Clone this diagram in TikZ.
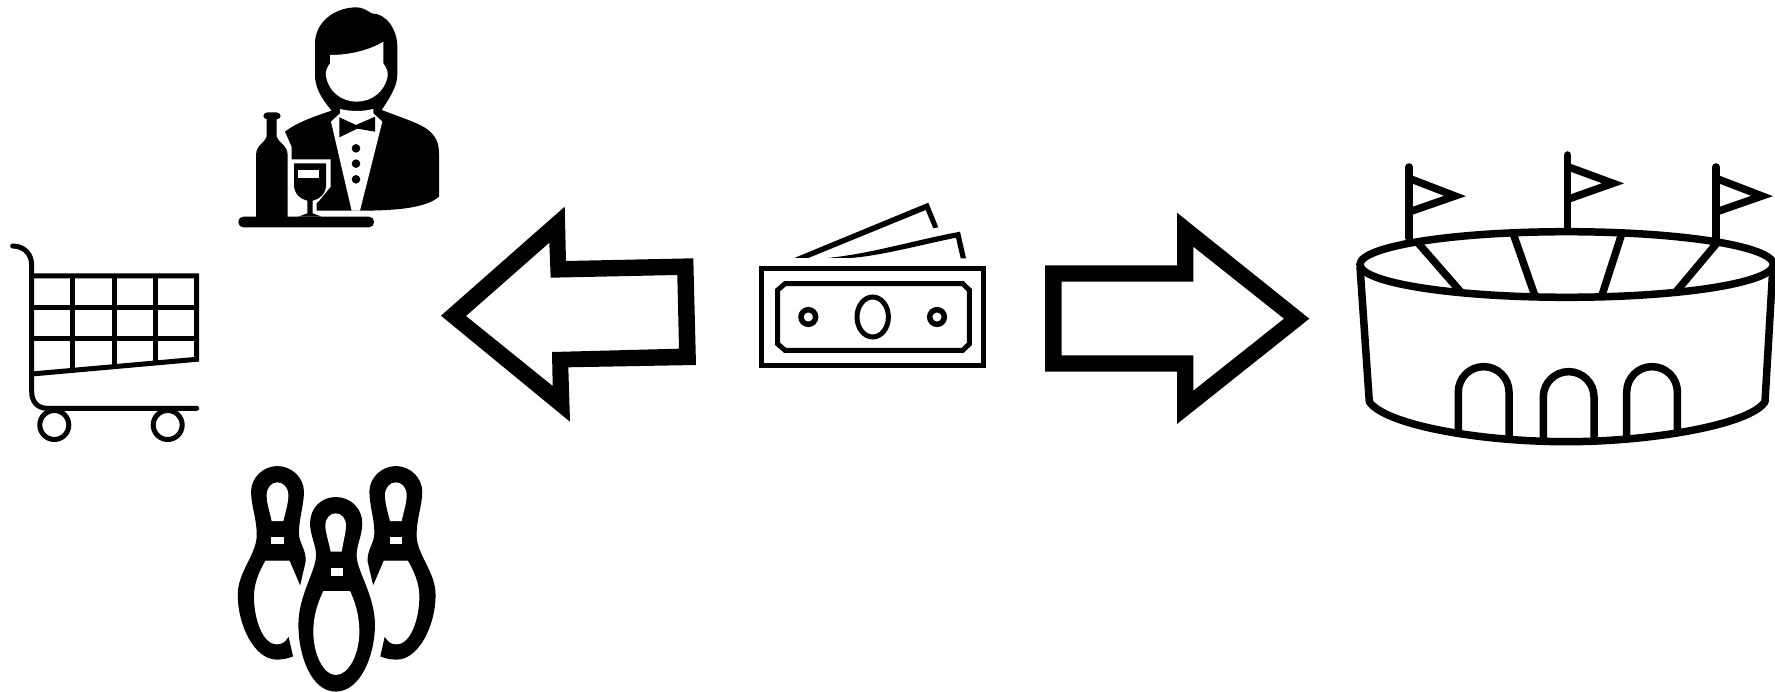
\documentclass[tikz,border=0pt]{standalone}
\tikzset{
  zoomed/.style 2 args={x=.33333pt,y=-.33333pt,xshift=#1pt,yshift=-#2pt},
  ink/.style={draw=black,line width=#1,line join=miter,fill=none},
  ink/.default=5pt,
  stadium line/.style={draw=black,line width=7.5pt},
  pin black/.style={fill=black,draw=black,line width=1.2pt}
}
\newcommand{\pinshape}{%
  \path[pin black] (172,35) .. controls (215,35) and (250,70) .. (250,110)
    .. controls (250,150) and (235,190) .. (235,235)
    .. controls (235,265) and (258,285) .. (255,320)
    -- (240,385) -- (210,315) -- (135,315)
    .. controls (115,350) and (100,385) .. (100,425)
    .. controls (100,490) and (125,570) .. (170,570)
    .. controls (185,570) and (195,565) .. (205,550)
    -- (217,603) .. controls (200,610) and (185,612) .. (170,612)
    .. controls (105,612) and (55,510) .. (55,420)
    .. controls (55,350) and (112,300) .. (112,240)
    .. controls (112,190) and (95,150) .. (95,110)
    .. controls (95,70) and (130,35) .. (172,35) -- cycle;
  \fill[white] (155,198) -- (190,198) .. controls (198,165) and (205,145) .. (205,120)
    .. controls (205,98) and (190,82) .. (172,82)
    .. controls (155,82) and (140,98) .. (140,120)
    .. controls (140,145) and (148,165) .. (155,198) -- cycle;
  \fill[white] (154,245) rectangle (191,268);
}
\begin{document}
\begin{tikzpicture}[x=1pt,y=-1pt]
\useasboundingbox[fill=white] (0,0) rectangle (1775,692);

% left arrow
\fill[black,even odd rule]
  (693.3,258.3) -- (566,261) -- (564.7,206.7) -- (441,315.7) -- (570,421.7) -- (568.3,367.3) -- (696,365) -- cycle
  (677.3,275) -- (550.7,277.7) -- (549.3,242.7) -- (466,316) -- (552.7,386) -- (552,352) -- (679,348.7) -- cycle;
% right arrow
\fill[black,even odd rule]
  (1045,265.3) -- (1177,265.3) -- (1177,212.7) -- (1309.3,318.7) -- (1177,424) -- (1177,371.7) -- (1045,371.7) -- cycle
  (1061.7,281.7) -- (1193.3,281.7) -- (1193.3,246.7) -- (1284,318.7) -- (1193.3,390.7) -- (1193.3,355.3) -- (1061.7,355.3) -- cycle;

% cart
\draw[ink,line cap=round] (12.7,246) .. controls (24,246) and (31.7,254) .. (31.7,265) -- (31.7,392)
   .. controls (31.7,402) and (38,408.3) .. (47,408.3) -- (196.7,408.3);
\draw[ink] (31.7,276) -- (196.7,276) -- (196.7,359.3) -- (31.7,374);
\draw[ink] (31.7,307.3) -- (196.7,307.3) (31.7,338.3) -- (196.7,338.3)
  (72.7,276) -- (72.7,370.3) (114,276) -- (114,366.7) (155,276) -- (155,363);
\draw[ink] (54.3,425) circle (14.5pt) (167.7,425) circle (14.5pt);

% waiter
\begin{scope}[zoomed={220}{0}]
\fill[black] (335,332) .. controls (300,290) and (285,260) .. (285,225) -- (285,130)
  .. controls (285,70) and (340,22) .. (410,22) .. controls (425,22) and (440,30) .. (455,40)
  .. controls (500,40) and (532,90) .. (532,140) -- (532,225)
  .. controls (532,260) and (505,300) .. (485,330) -- (560,358)
  .. controls (610,378) and (657,395) .. (657,460) -- (657,590)
  .. controls (620,622) and (540,632) .. (420,632) -- (290,632) -- (290,605) -- (215,600) -- (215,440) -- (195,395)
  .. controls (230,368) and (280,350) .. (335,332) -- cycle;
\fill[white] (330,165) .. controls (390,165) and (450,150) .. (490,125) -- (490,190)
  .. controls (500,205) and (505,215) .. (503,228)
  .. controls (495,275) and (455,305) .. (410,305)
  .. controls (365,305) and (325,275) .. (318,228)
  .. controls (315,215) and (322,200) .. (330,190) -- cycle;
% shirt
\fill[white] (333,365) -- (360,340) -- (360,327) .. controls (395,335) and (425,335) .. (460,327) -- (460,340)
  -- (487,365) -- (420,632) -- (395,632) -- cycle;
% bow tie
\fill[black] (358,352) -- (408,375) -- (465,350) -- (465,395) -- (412,386) -- (358,412) -- cycle;
\fill[black] (408,445) circle (4.3pt) (408,491) circle (4.3pt) (408,538) circle (4.3pt);
% space round the glass
\fill[white] (205,478) -- (332,478) -- (332,560) -- (295,605) -- (285,612) -- (285,655) -- (205,655) -- cycle;
% glass
\fill[black] (222,490) -- (318,490) -- (318,555) .. controls (318,580) and (300,598) .. (278,602) -- (278,640)
  -- (305,650) -- (235,650) -- (262,640) -- (262,602) .. controls (240,598) and (222,580) .. (222,555) -- cycle;
\fill[white] (235,510) rectangle (298,535);
% bottle
\fill[black] (140,350) -- (170,350) -- (170,410)
  .. controls (172,425) and (203,435) .. (203,465) -- (203,655) -- (108,655) -- (108,465)
  .. controls (108,435) and (138,425) .. (140,410) -- cycle;
\fill[black,rounded corners=4pt] (130,337) rectangle (182,358);
\fill[black,rounded corners=5pt] (55,650) rectangle (462,682);
\end{scope}

% pins
\begin{scope}[zoomed={220}{455}]
\pinshape
\end{scope}
\begin{scope}[x=-.33333pt,y=-.33333pt,xshift=453.33pt,yshift=-455pt]
\pinshape
\end{scope}
\begin{scope}[zoomed={220}{455}]
\fill[white] (347,105) .. controls (410,105) and (445,160) .. (445,205)
  .. controls (445,240) and (430,280) .. (430,310) -- (480,480) -- (480,600) -- (420,700) -- (280,700) -- (220,600) -- (220,480) -- (265,310)
  .. controls (260,280) and (250,240) .. (250,205) .. controls (250,160) and (285,105) .. (347,105) -- cycle;
\path[pin black] (347,128) .. controls (390,128) and (425,160) .. (425,205)
  .. controls (425,240) and (408,270) .. (408,300)
  .. controls (408,350) and (463,420) .. (463,510)
  .. controls (463,600) and (420,708) .. (347,708)
  .. controls (275,708) and (237,600) .. (237,510)
  .. controls (237,420) and (290,350) .. (290,300)
  .. controls (290,270) and (272,240) .. (272,205)
  .. controls (272,160) and (305,128) .. (347,128) -- cycle;
\fill[white] (332,290) -- (365,290) .. controls (372,250) and (378,230) .. (378,212)
  .. controls (378,190) and (365,175) .. (347,175)
  .. controls (330,175) and (316,190) .. (316,212)
  .. controls (316,230) and (325,255) .. (332,290) -- cycle;
\fill[white] (332,338) rectangle (368,362);
\fill[white] (310,408) -- (390,408) .. controls (405,440) and (418,480) .. (418,530)
  .. controls (418,600) and (385,660) .. (347,660)
  .. controls (312,660) and (280,600) .. (280,530)
  .. controls (280,480) and (295,440) .. (310,408) -- cycle;
\end{scope}

% banknotes
\draw[ink=5.2pt] (761.8,268.5) rectangle (983.5,365.8);
\draw[ink] (785,283.7) -- (962.7,283.7) -- (969.3,290) -- (969.3,344) -- (962.7,350.3) -- (785,350.3) -- (777.7,344) -- (777.7,290) -- cycle;
\draw[ink] (872.7,317) ellipse [x radius=15.7pt,y radius=20pt];
\draw[ink=5.5pt] (808.3,317) circle (7.3pt) (937,317) circle (7.3pt);
\fill[black] (794.3,258) -- (928.3,202.7) -- (938.3,227.3) -- (933.3,228.3) -- (925.7,210) -- (808.3,258) -- cycle;
\fill[black] (827.3,258) .. controls (870,254) and (915,240) .. (960,231.7) -- (966,258.3) -- (960.7,258.3) -- (956,237.7)
  .. controls (920,245) and (880,256) .. (850,258) -- cycle;

% stadium
\draw[stadium line] (1566.7,264.5) ellipse [x radius=206.7pt,y radius=32.8pt];
\draw[stadium line,line join=round] (1360,266.7) -- (1369.3,401.7) .. controls (1385,425) and (1480,441.7) .. (1566.7,441.7)
  .. controls (1650,441.7) and (1750,425) .. (1765,401.7) -- (1772.7,270);
\draw[stadium line] (1418.3,243.3) -- (1461.7,293) (1513.3,234) -- (1535,296) (1621.7,234) -- (1601.7,296) (1716.7,243.3) -- (1675,293);
\draw[stadium line,line cap=round] (1409,167) -- (1409,238) (1567.7,155) -- (1567.7,229) (1716,167) -- (1716,238);
\draw[stadium line] (1409,178.3) -- (1455,196) -- (1409,212);
\draw[stadium line] (1567.7,166.7) -- (1613,183.3) -- (1567.7,199.3);
\draw[stadium line] (1716,178.3) -- (1762,196) -- (1716,212);
\draw[stadium line] (1458.3,433.3) -- (1458.3,392) arc[start angle=180,end angle=0,radius=25.35pt] -- (1509,437.7);
\draw[stadium line] (1543.3,439) -- (1543.3,397) arc[start angle=180,end angle=0,radius=25.35pt] -- (1594,439);
\draw[stadium line] (1626.7,437.7) -- (1626.7,392) arc[start angle=180,end angle=0,radius=25.35pt] -- (1677.4,433.3);
\end{tikzpicture}
\end{document}
